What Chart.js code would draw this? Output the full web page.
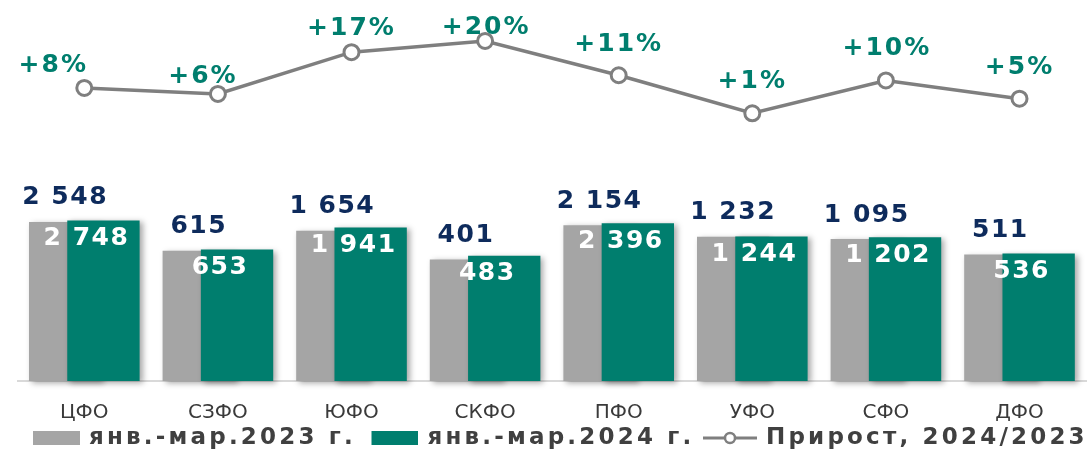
<!DOCTYPE html>
<html><head><meta charset="utf-8">
<script src="https://cdn.jsdelivr.net/npm/chart.js@4"></script>
<style>html,body{margin:0;padding:0;background:#fff;}#wrap{position:relative;width:1088px;height:451px;}</style>
</head><body><div id="wrap"><canvas id="c" width="1088" height="451"></canvas></div>
<script>
const categories = ['ЦФО','СЗФО','ЮФО','СКФО','ПФО','УФО','СФО','ДФО'];
const values2023 = [2548, 615, 1654, 401, 2154, 1232, 1095, 511];
const values2024 = [2748, 653, 1941, 483, 2396, 1244, 1202, 536];
const growthPct = [7.8, 6.2, 17.4, 20.4, 11.2, 1.0, 9.8, 4.9];
const growthLabels = ['+8%','+6%','+17%','+20%','+11%','+1%','+10%','+5%'];
const seriesNames = ['янв.-мар.2023 г.','янв.-мар.2024 г.','Прирост, 2024/2023'];

const GRAY = '#A5A5A5', TEAL = '#007E6E', NAVY = '#0E2B5C', LINE = '#7F7F7F', TXT = '#3A3A3A';
const FONT = '"DejaVu Sans", sans-serif';
const LEGEND_LS = '3.2px';
const pctDx = [-31, -15, 0, 1, 0, 0, 1, 0];
const pctDy = [-24.5, -19.5, -25.7, -15.5, -33, -34.3, -34.5, -34];

Chart.defaults.font.family = FONT;

function fmt(n){ return n >= 1000 ? Math.floor(n/1000) + ' ' + String(n % 1000).padStart(3,'0') : String(n); }

function rectIcon(color){
  const c = document.createElement('canvas'); c.width = 60; c.height = 16;
  const g = c.getContext('2d'); g.fillStyle = color; g.fillRect(13, 1, 47, 14); return c;
}
function lineIcon(){
  const c = document.createElement('canvas'); c.width = 60; c.height = 20;
  const g = c.getContext('2d'); g.strokeStyle = LINE; g.lineWidth = 3;
  g.beginPath(); g.moveTo(6, 10); g.lineTo(60, 10); g.stroke();
  g.beginPath(); g.arc(33, 10, 5, 0, Math.PI*2); g.fillStyle = '#fff'; g.fill(); g.lineWidth = 2.5; g.stroke();
  return c;
}
const icons = [rectIcon(GRAY), rectIcon(TEAL), lineIcon()];

const orderPlugin = {
  id: 'orderPlugin',
  beforeDatasetsDraw(chart){
    const ctx = chart.ctx;
    ctx.save();
    ctx.shadowColor = 'rgba(0,0,0,0.35)'; ctx.shadowBlur = 6; ctx.shadowOffsetX = 3; ctx.shadowOffsetY = 2;
    [0,1].forEach(i => chart.getDatasetMeta(i).controller.draw());
    ctx.restore();
  },
  beforeDatasetDraw(chart, args){ if (args.index === 0 || args.index === 1) return false; }
};

const labelPlugin = {
  id: 'labelPlugin',
  afterDatasetsDraw(chart){
    const ctx = chart.ctx;
    const m0 = chart.getDatasetMeta(0), m1 = chart.getDatasetMeta(1), m2 = chart.getDatasetMeta(2);
    ctx.save();
    ctx.font = 'bold 25px ' + FONT; ctx.letterSpacing = '1.5px';
    ctx.textAlign = 'center'; ctx.textBaseline = 'alphabetic';
    m0.data.forEach((bar, i) => { ctx.fillStyle = NAVY; ctx.fillText(fmt(values2023[i]), bar.x, bar.y - 17.5); });
    m1.data.forEach((bar, i) => { ctx.fillStyle = '#FFFFFF'; ctx.fillText(fmt(values2024[i]), bar.x - 17, bar.y + 24.5); });
    ctx.letterSpacing = '2px';
    m2.data.forEach((pt, i) => { ctx.fillStyle = TEAL; ctx.fillText(growthLabels[i], pt.x + pctDx[i], pt.y + pctDy[i] + 9); });
    ctx.restore();
  }
};

const chart = new Chart(document.getElementById('c'), {
  data: {
    labels: categories,
    datasets: [
      { type:'bar', label: seriesNames[0], data: values2023, backgroundColor: GRAY, yAxisID:'y',
        categoryPercentage: 0.573, barPercentage: 1.89 },
      { type:'bar', label: seriesNames[1], data: values2024, backgroundColor: TEAL, yAxisID:'y',
        categoryPercentage: 0.573, barPercentage: 1.89 },
      { type:'line', label: seriesNames[2], data: growthPct, yAxisID:'y2', borderColor: LINE, borderWidth: 3.5,
        pointRadius: 7.5, pointHoverRadius: 7.5, pointBorderWidth: 3, pointBackgroundColor:'#fff', pointBorderColor: LINE,
        tension: 0, clip: false }
    ]
  },
  options: {
    responsive: false, maintainAspectRatio: false, animation: false,
    devicePixelRatio: 1,
    layout: { autoPadding: false, padding: { left: 17.5, right: 1.7, top: 0, bottom: 0 } },
    scales: {
      x: { grid: { display: false, drawTicks: false }, border: { display: true, color: '#D9D9D9', width: 2 },
           ticks: { color: TXT, font: { size: 20 }, padding: 19.5, maxRotation: 0, autoSkip: false },
           afterFit: (s) => { s.height = 40.5; } },
      y: { type: 'logarithmic', display: false, min: 1, max: Math.pow(10, 381/46.7) },
      y2: { type: 'linear', display: false, min: -(381-117)/3.727, max: 117/3.727 }
    },
    plugins: {
      tooltip: { enabled: false },
      legend: { position: 'bottom', align: 'start',
        labels: { usePointStyle: true, pointStyleWidth: 55, boxHeight: 23, padding: 5, color: '#404040',
          font: { size: 23, weight: 'bold' },
          generateLabels: (ch) => ch.data.datasets.map((d, i) => ({ text: d.label, fillStyle: 'transparent', strokeStyle: 'transparent',
            lineWidth: 0, hidden: false, datasetIndex: i, pointStyle: icons[i], fontColor: '#404040' })) } }
    }
  },
  plugins: [orderPlugin, labelPlugin]
});
// letter spacing for the legend text only (measure + draw), kept on one row, fixed legend height
(function(){
  const lg = chart.legend;
  const ofit = lg.fit.bind(lg), odraw = lg.draw.bind(lg);
  lg.fit = function(){ const c = this.ctx; c.save(); c.letterSpacing = LEGEND_LS; this.maxWidth += 40; ofit(); c.restore(); this.height = 29.5; };
  lg.draw = function(){
    const c = this.ctx, r = this.right;
    c.save(); c.letterSpacing = LEGEND_LS; this.right = r + 40; odraw(); this.right = r; c.restore();
  };
  chart.update();
})();
</script></body></html>
